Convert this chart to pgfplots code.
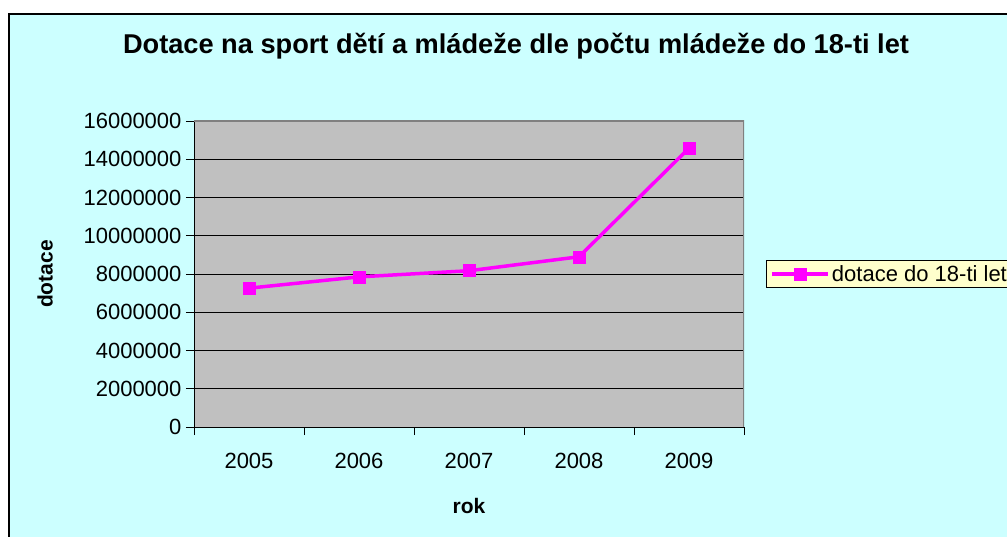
\documentclass[border=0pt]{standalone}
\usepackage{fontspec}
\setmainfont{Liberation Sans}
\usepackage{pgfplots}
\pgfplotsset{compat=1.18}
\definecolor{bgcyan}{HTML}{CCFFFF}
\definecolor{plotgray}{HTML}{C0C0C0}
\definecolor{edgegray}{HTML}{808080}
\definecolor{mag}{HTML}{FF00FF}
\definecolor{legyellow}{HTML}{FFFFCC}
\begin{document}
\begin{tikzpicture}[x=1pt,y=1pt]
\useasboundingbox (0,0) rectangle (1007,536);
\clip (0,0) rectangle (1007,536);
\fill[white] (0,0) rectangle (1007,536);
\draw[line width=1.5pt, fill=bgcyan] (9,522) rectangle (1020,-10);
\node[font=\fontsize{27.2}{31}\selectfont\bfseries] at (516,490) {Dotace na sport dětí a mládeže dle počtu mládeže do 18-ti let};
\begin{axis}[
  at={(194pt,109pt)}, anchor=origin,
  scale only axis, width=550pt, height=306pt,
  xmin=0.5, xmax=5.5, ymin=0, ymax=16000000,
  axis x line*=bottom, axis y line*=left,
  axis line style={line width=1pt, black, -},
  axis background/.style={fill=plotgray},
  xtick={0.5,1.5,...,5.5},
  xticklabels={2005,2006,2007,2008,2009},
  x tick label as interval,
  ytick={0,2000000,...,16000000},
  scaled y ticks=false,
  /pgf/number format/.cd, fixed, 1000 sep={}, assume math mode=true,
  /pgfplots/.cd,
  ymajorgrids, major grid style={black, line width=0.9pt},
  tick align=outside, major tick length=8pt,
  tick style={black, line width=0.9pt},
  tick label style={font=\fontsize{22}{26}\selectfont},
  yticklabel style={xshift=-1pt},
  xticklabel style={yshift=-15pt},
  xlabel={\bfseries rok}, ylabel={\bfseries dotace},
  label style={font=\fontsize{21}{25}\selectfont},
  xlabel style={yshift=-22pt},
  ylabel style={yshift=24pt},
  legend style={at={(1.04,0.5)}, anchor=west, fill=legyellow, draw=black, line width=1pt,
    font=\fontsize{22}{26}\selectfont, inner xsep=4pt, inner ysep=3pt},
  legend image code/.code={\draw[#1, mark repeat=2, mark phase=2] plot coordinates {(0pt,0pt) (28pt,0pt) (56pt,0pt)};},
]
\addplot[mag, line width=3.5pt, mark=square*, mark size=6pt, mark options={solid, line width=0.5pt}]
  coordinates {(1,7260000) (2,7850000) (3,8170000) (4,8900000) (5,14580000)};
\addlegendentry{dotace do 18-ti let}
\draw[edgegray, line width=1.2pt] (rel axis cs:0,1) -- (rel axis cs:1,1) -- (rel axis cs:1,0);
\end{axis}
\end{tikzpicture}
\end{document}
